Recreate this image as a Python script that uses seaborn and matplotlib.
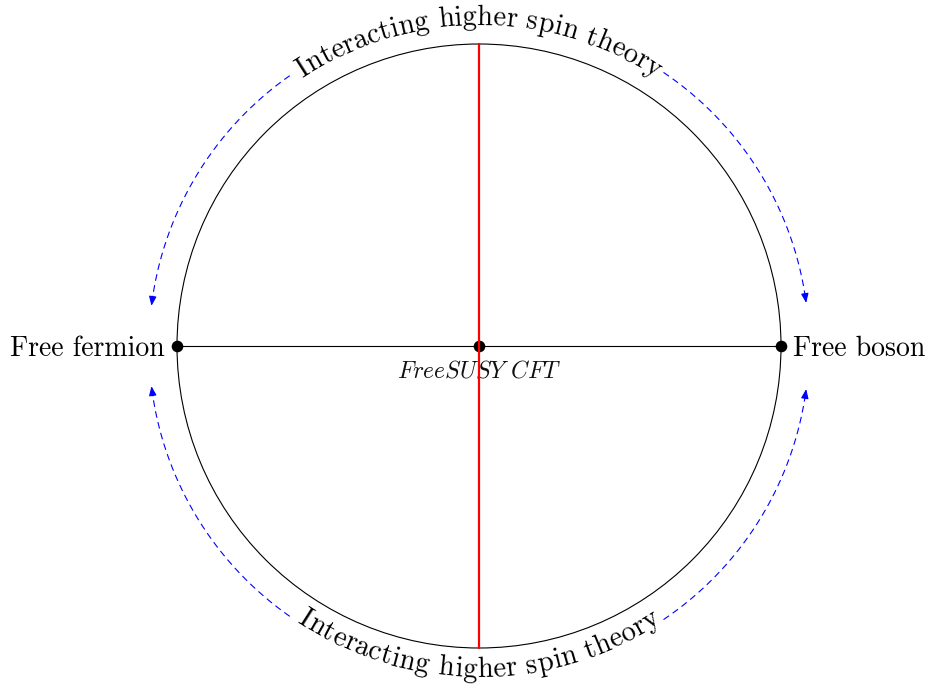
import numpy as np
import pandas as pd
import matplotlib
matplotlib.use("Agg")
import matplotlib.pyplot as plt
import seaborn as sns
from matplotlib.patches import Circle
from matplotlib.font_manager import FontProperties
from matplotlib.textpath import TextToPath

# ---------------- data ----------------
node_labels = ["Free fermion", "FreeSUSY CFT", "Free boson"]
node_angles_deg = [180, None, 0]          # position on the circle (None = centre)
arc_text = "Interacting higher spin theory"
arc_text_centres_deg = [90, -90]           # top and bottom curved labels
flow_arcs_deg = [(56, 7.5), (125, 173), (-56, -7.5), (-125, -173)]  # (start, end)

# ---------------- geometry (pixels, y up, centre at 0) ----------------
W, H, DPI = 931, 688, 100
CX, CY = 479, 346
R = 302

sns.set_theme(style="white")
plt.rcParams["mathtext.fontset"] = "cm"

fig = plt.figure(figsize=(W / DPI, H / DPI), dpi=DPI)
ax = fig.add_axes([0, 0, 1, 1])
ax.set_xlim(-CX, W - CX)
ax.set_ylim(-(H - CY), CY)
ax.set_aspect("equal")
ax.axis("off")

# circle
ax.add_patch(Circle((0, 0), R, fill=False, edgecolor="black", lw=0.8, zorder=2))

# horizontal line between the two free theories
hline = pd.DataFrame({"x": [R * np.cos(np.radians(a)) for a in (180, 0)],
                      "y": [0.0, 0.0]})
sns.lineplot(data=hline, x="x", y="y", color="black", lw=0.8, sort=False,
             estimator=None, ax=ax, zorder=2)

# vertical red line
vline = pd.DataFrame({"x": [0.0, 0.0], "y": [R, -R]})
sns.lineplot(data=vline, x="x", y="y", color="red", lw=1.6, sort=False,
             estimator=None, errorbar=None, ax=ax, zorder=6)

# dots
pts = pd.DataFrame({
    "x": [0.0 if a is None else R * np.cos(np.radians(a)) for a in node_angles_deg],
    "y": [0.0 if a is None else R * np.sin(np.radians(a)) for a in node_angles_deg],
})
sns.scatterplot(data=pts, x="x", y="y", color="black", s=70, edgecolor="black",
                linewidth=0, ax=ax, zorder=5)

# node labels
ax.text(-R - 12, -10, node_labels[0], ha="right", va="baseline",
        fontsize=20, family="cmr10", color="black")
ax.text(R + 12, -10, node_labels[2], ha="left", va="baseline",
        fontsize=20, family="cmr10", color="black")
ax.text(0, -32, r"$FreeSUSY\ CFT$", ha="center", va="baseline",
        fontsize=17, color="#111111", zorder=4)

# curved text
FS = 20.5
prop = FontProperties(family="cmr10", size=FS)
t2p = TextToPath()
pt2px = DPI / 72.0


def width_px(s):
    if s == "":
        return 0.0
    w, h, d = t2p.get_text_width_height_descent(s, prop, ismath=False)
    return w * pt2px


total = width_px(arc_text)


def curved(text, centre_deg, radius, top, spread=1.0):
    for i, ch in enumerate(text):
        if ch == " ":
            continue
        cw = width_px(ch)
        cpos = (width_px(text[: i + 1]) - cw / 2.0 - total / 2.0) * spread
        dth = np.degrees(cpos / radius)
        if top:
            ang = centre_deg - dth
            rot = ang - 90
        else:
            ang = centre_deg + dth
            rot = ang + 90
        x = radius * np.cos(np.radians(ang))
        y = radius * np.sin(np.radians(ang))
        ax.text(x, y, ch, ha="center", va="baseline", rotation=rot,
                rotation_mode="anchor", fontproperties=prop, color="black",
                zorder=4)


curved(arc_text, arc_text_centres_deg[0], 321, top=True)
curved(arc_text, arc_text_centres_deg[1], 331, top=False, spread=1.035)

# blue dashed arrows
RA = 330
for a0, a1 in flow_arcs_deg:
    th = np.radians(np.linspace(a0, a1, 200))
    xs, ys = RA * np.cos(th), RA * np.sin(th)
    ax.plot(xs[:-6], ys[:-6], color="blue", lw=0.8, ls=(0, (6, 4)), zorder=3)
    ax.annotate("", xy=(xs[-1], ys[-1]), xytext=(xs[-8], ys[-8]),
                arrowprops=dict(arrowstyle="-|>,head_length=0.4,head_width=0.16",
                                color="blue", lw=0.8, mutation_scale=14,
                                shrinkA=0, shrinkB=0), zorder=3)

fig.savefig("out.png", dpi=DPI)
